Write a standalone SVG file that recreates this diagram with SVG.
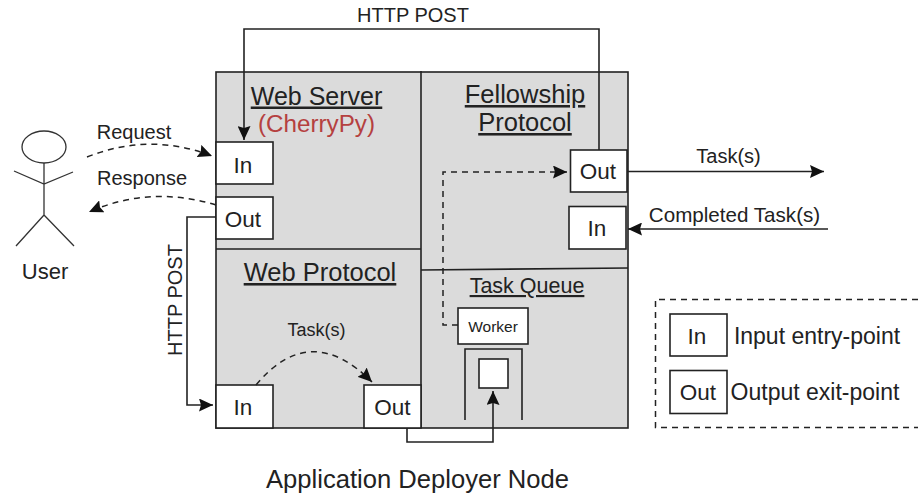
<svg xmlns="http://www.w3.org/2000/svg" width="918" height="495" viewBox="0 0 918 495">
<style>
text{font-family:"Liberation Sans",Arial,sans-serif;fill:#222;text-anchor:middle}
.box{fill:#fff;stroke:#222;stroke-width:1.6}
.area{fill:#dbdbdb;stroke:#222;stroke-width:1.6}
.ln{fill:none;stroke:#222;stroke-width:1.6}
.thin{fill:none;stroke:#333;stroke-width:1.3}
.da{fill:none;stroke:#222;stroke-width:1.5;stroke-dasharray:6 5}
.port{font-size:22.500px}
.title{font-size:25.500px;text-decoration:underline}
.lbl{font-size:20px}
.leg{font-size:23px}
</style>
<defs>
<marker id="ah" markerUnits="userSpaceOnUse" markerWidth="15" markerHeight="13" refX="14" refY="6.5" orient="auto"><path d="M0 0L14 6.500L0 13L2 6.500Z" fill="#111"/></marker>
</defs>
<g id="deployer-node">
<rect class="area" x="216" y="72" width="412" height="356"/>
<text x="417.500" y="488" style="font-size:25.600px">Application Deployer Node</text>
</g>
<g id="dividers">
<path class="ln" d="M421 71V428M216 249H421M421 270L628 268"/>
</g>
<g id="web-server">
<text class="title" x="316.500" y="104.500" style="font-size:25px">Web Server</text>
<text x="316.500" y="132" style="font-size:24.200px;fill:#b5403f">(CherryPy)</text>
</g>
<g id="web-server-in"><rect class="box" x="216" y="142" width="57" height="42"/><text class="port" x="243" y="173">In</text></g>
<g id="web-server-out"><rect class="box" x="216" y="197" width="57" height="42"/><text class="port" x="243" y="227">Out</text></g>
<g id="web-protocol"><text class="title" x="320" y="281">Web Protocol</text></g>
<g id="web-protocol-in"><rect class="box" x="216" y="385" width="57" height="43"/><text class="port" x="243" y="415">In</text></g>
<g id="web-protocol-out"><rect class="box" x="364" y="385" width="57" height="43"/><text class="port" x="392.500" y="415">Out</text></g>
<g id="fellowship-protocol">
<text class="title" x="525" y="103">Fellowship</text>
<text class="title" x="525" y="131">Protocol</text>
</g>
<g id="fellowship-out"><rect class="box" x="570.500" y="150" width="56.500" height="42"/><text class="port" x="598" y="179">Out</text></g>
<g id="fellowship-in"><rect class="box" x="569" y="206.500" width="57" height="42.500"/><text class="port" x="597" y="236">In</text></g>
<g id="task-queue"><text x="527" y="293" style="font-size:21.500px;text-decoration:underline">Task Queue</text></g>
<g id="worker"><rect class="box" x="458" y="308" width="70" height="36"/><text x="493" y="332" style="font-size:15.500px">Worker</text></g>
<g id="queue">
<path class="ln" d="M465 420V349H522V420"/>
<rect class="box" x="479" y="359" width="29" height="29"/>
</g>
<g id="user">
<ellipse class="thin" cx="44" cy="147" rx="22" ry="16"/>
<path class="thin" d="M44 163V215M14 171L44 184L73 172M16 246L44 215L74 246"/>
<text x="45" y="279" style="font-size:22px">User</text>
</g>
<g id="connectors">
<path class="ln" d="M599 150V29H244V140" marker-end="url(#ah)"/>
<path class="da" d="M87 157Q150 132 212 156" marker-end="url(#ah)"/>
<path class="da" d="M216 205Q150 185 89 212" marker-end="url(#ah)"/>
<path class="ln" d="M216 217H187V405H213" marker-end="url(#ah)"/>
<path class="da" d="M256 385Q310 320 372 382" marker-end="url(#ah)"/>
<path class="ln" d="M407 428V442H493V391" marker-end="url(#ah)"/>
<path class="da" d="M458 325H443V172H567" marker-end="url(#ah)"/>
<path class="ln" d="M627 171.500H824" marker-end="url(#ah)"/>
<path class="ln" d="M828 229H628" marker-end="url(#ah)"/>
</g>
<g id="connector-labels">
<text class="lbl" x="413" y="22">HTTP POST</text>
<text class="lbl" x="134" y="139">Request</text>
<text class="lbl" x="142" y="185">Response</text>
<text class="lbl" transform="translate(182 300) rotate(-90)">HTTP POST</text>
<text x="316.500" y="336" style="font-size:18px">Task(s)</text>
<text class="lbl" x="728.500" y="163">Task(s)</text>
<text x="734.500" y="222" style="font-size:20.600px">Completed Task(s)</text>
</g>
<g id="legend">
<path class="da" d="M918 299.500H655.500V427.500H918"/>
<rect class="box" x="670" y="314" width="57" height="42"/><text class="port" x="697" y="344">In</text>
<text class="leg" x="817" y="344">Input entry-point</text>
<rect class="box" x="670" y="370.500" width="57" height="43"/><text class="port" x="698" y="400">Out</text>
<text class="leg" x="815" y="400">Output exit-point</text>
</g>
</svg>
